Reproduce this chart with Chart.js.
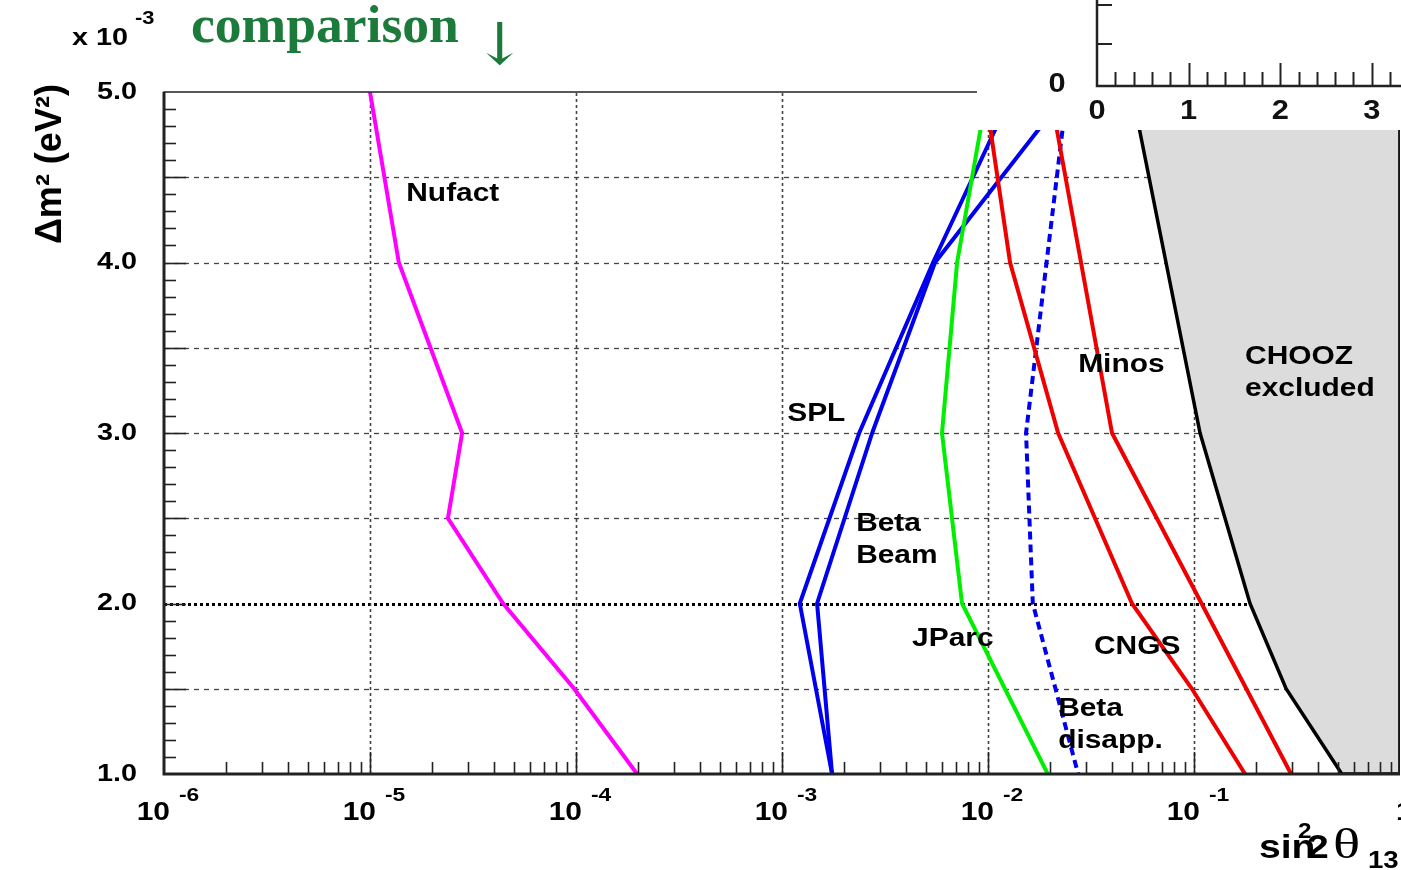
<!DOCTYPE html>
<html>
<head>
<meta charset="utf-8">
<script src="https://cdn.jsdelivr.net/npm/chart.js@4.4.1/dist/chart.umd.min.js"></script>
<style>
  html, body { margin: 0; padding: 0; background: #fff; }
  #wrap { width: 1401px; height: 870px; position: relative; }
</style>
</head>
<body>
<div id="wrap"><canvas id="canvas" width="1401" height="870"></canvas></div>
<script>
// sensitivity curves: sin^2(2 theta13) reached at each delta m^2 (x 10^-3 eV^2)
const dm2Nufact = [5.0, 4.0, 3.0, 2.5, 2.0, 1.5, 1.0];
const nufact    = [1.0e-5, 1.38e-5, 2.8e-5, 2.39e-5, 4.43e-5, 9.8e-5, 1.98e-4];

const dm2Blue  = [5.0, 4.0, 3.0, 2.0, 1.0];
const spl      = [0.0132, 5.41e-3, 2.37e-3, 1.22e-3, 1.75e-3];
const betaBeam = [0.0244, 5.53e-3, 2.74e-3, 1.48e-3, 1.75e-3];

const dm2Jparc = [5.0, 4.0, 3.0, 2.0, 1.0];
const jparc    = [9.9e-3, 7.08e-3, 5.98e-3, 7.48e-3, 1.95e-2];

const dm2BetaDis = [5.0, 3.0, 2.0, 1.0];
const betaDis    = [0.0242, 0.0153, 0.0165, 0.0274];

const dm2Cngs = [5.0, 4.0, 3.0, 2.0, 1.5, 1.0];
const cngs    = [0.00966, 0.0128, 0.0219, 0.0500, 0.0977, 0.177];

const dm2Minos = [5.0, 3.0, 1.0];
const minos    = [0.0200, 0.0400, 0.296];

// CHOOZ limit, closed along sin^2 2theta = 1 to shade the excluded side
const dm2Chooz = [5.0, 3.0, 2.0, 1.5, 1.0, 1.0, 5.0];
const chooz    = [0.050, 0.107, 0.187, 0.280, 0.522, 1.0, 1.0];

const yTicks = [1, 2, 3, 4, 5];
const yTickLabels = ['1.0', '2.0', '3.0', '4.0', '5.0'];
const xTickExps = ['-6', '-5', '-4', '-3', '-2', '-1'];

const FONT = '"Liberation Sans", Arial, sans-serif';
const SERIF = '"Liberation Serif", "DejaVu Serif", serif';

function pts(xs, ys) {
  return xs.map((v, i) => ({ x: v, y: ys[i] }));
}

function line(data, color, extra) {
  return Object.assign({
    data: data,
    showLine: true,
    borderColor: color,
    borderWidth: 4,
    pointRadius: 0,
    fill: false,
    tension: 0
  }, extra || {});
}

// text stretched sideways, the way the original plot renders it
function txt(ctx, s, x, y, align, sx) {
  ctx.save();
  ctx.translate(x, y);
  ctx.scale(sx || 1, 1);
  ctx.textAlign = align || 'left';
  ctx.fillText(s, 0, 0);
  ctx.restore();
}

const curveLabels = [
  { t: ['Nufact'], x: 1.5e-5, y: 4.40 },
  { t: ['SPL'], x: 1.06e-3, y: 3.11 },
  { t: ['Beta', 'Beam'], x: 2.29e-3, y: 2.47 },
  { t: ['JParc'], x: 4.28e-3, y: 1.79 },
  { t: ['Minos'], x: 0.0274, y: 3.40 },
  { t: ['CNGS'], x: 0.0327, y: 1.745 },
  { t: ['Beta', 'disapp.'], x: 0.0219, y: 1.381 },
  { t: ['CHOOZ', 'excluded'], x: 0.177, y: 3.446 }
];

const decor = {
  id: 'decor',
  beforeDatasetsDraw(chart) {
    const { ctx, chartArea: a, scales: { x, y } } = chart;
    ctx.save();
    // horizontal grid every 0.5
    for (let i = 3; i <= 9; i++) {
      const py = Math.round(y.getPixelForValue(i / 2)) + 0.5;
      ctx.beginPath();
      if (i === 4) {
        ctx.setLineDash([3, 3]);
        ctx.lineWidth = 3;
        ctx.strokeStyle = '#000';
      } else {
        ctx.setLineDash([5, 5]);
        ctx.lineWidth = 1.3;
        ctx.strokeStyle = '#444';
      }
      ctx.moveTo(a.left, py);
      ctx.lineTo(a.right, py);
      ctx.stroke();
    }
    // vertical grid at decades
    ctx.setLineDash([3, 3]);
    ctx.lineWidth = 1.6;
    ctx.strokeStyle = '#444';
    for (let e = -5; e <= -1; e++) {
      const px = Math.round(x.getPixelForValue(Math.pow(10, e))) + 0.5;
      ctx.beginPath();
      ctx.moveTo(px, a.bottom);
      ctx.lineTo(px, a.top);
      ctx.stroke();
    }
    ctx.restore();
  },
  afterDatasetsDraw(chart) {
    const { ctx, chartArea: a, scales: { x, y } } = chart;
    ctx.save();
    ctx.setLineDash([]);
    ctx.strokeStyle = '#222';
    // ticks, drawn inward
    ctx.lineWidth = 1.6;
    for (let i = 11; i < 50; i++) {
      const py = Math.round(y.getPixelForValue(i / 10)) + 0.5;
      const len = i % 5 === 0 ? 22 : 12;
      ctx.beginPath();
      ctx.moveTo(a.left, py);
      ctx.lineTo(a.left + len, py);
      ctx.stroke();
    }
    for (let e = -6; e < 0; e++) {
      for (let k = 1; k <= 9; k++) {
        if (e === -6 && k === 1) continue;
        const px = Math.round(x.getPixelForValue(k * Math.pow(10, e))) + 0.5;
        const len = k === 1 ? 22 : 12;
        ctx.beginPath();
        ctx.moveTo(px, a.bottom);
        ctx.lineTo(px, a.bottom - len);
        ctx.stroke();
      }
    }
    // frame
    ctx.lineWidth = 1.5;
    ctx.strokeRect(a.left, a.top, a.right - a.left - 1, a.bottom - a.top);
    ctx.lineWidth = 3;
    ctx.beginPath();
    ctx.moveTo(a.left, a.top);
    ctx.lineTo(a.left, a.bottom);
    ctx.lineTo(a.right, a.bottom);
    ctx.stroke();

    // curve names
    ctx.fillStyle = '#000';
    ctx.font = 'bold 26px ' + FONT;
    ctx.textBaseline = 'middle';
    curveLabels.forEach(l => {
      const px = x.getPixelForValue(l.x);
      const py = y.getPixelForValue(l.y);
      l.t.forEach((s, i) => txt(ctx, s, px, py + i * 32, 'left', 1.15));
    });

    // y tick labels
    ctx.font = 'bold 24px ' + FONT;
    yTicks.forEach((v, i) => {
      txt(ctx, yTickLabels[i], a.left - 27, y.getPixelForValue(v), 'right', 1.2);
    });

    // x tick labels 10^n
    ctx.textBaseline = 'alphabetic';
    xTickExps.forEach((ex, i) => {
      const px = x.getPixelForValue(Math.pow(10, i - 6));
      ctx.font = 'bold 25px ' + FONT;
      txt(ctx, '10', px + 6, 820, 'right', 1.2);
      ctx.font = 'bold 19px ' + FONT;
      txt(ctx, ex, px + 15, 801, 'left', 1.2);
    });
    ctx.font = 'bold 25px ' + FONT;
    txt(ctx, '1', x.getPixelForValue(1) - 4, 820, 'left', 1.2);

    // x title: sin^2 2theta_13
    ctx.font = 'bold 34px ' + FONT;
    txt(ctx, 'sin', 1259, 858, 'left', 1.15);
    ctx.font = 'bold 22px ' + FONT;
    txt(ctx, '2', 1298, 838, 'left', 1.1);
    ctx.font = 'bold 34px ' + FONT;
    txt(ctx, '2', 1307, 858, 'left', 1.15);
    ctx.font = '42px ' + SERIF;
    txt(ctx, '\u03B8', 1333, 858, 'left', 1.35);
    ctx.font = 'bold 23px ' + FONT;
    txt(ctx, '13', 1368, 868, 'left', 1.2);

    // y title
    ctx.save();
    ctx.translate(61, 244);
    ctx.rotate(-Math.PI / 2);
    ctx.font = 'bold 36px ' + FONT;
    ctx.textAlign = 'left';
    ctx.fillText('\u0394m\u00B2 (eV\u00B2)', 0, 0);
    ctx.restore();

    // multiplier and heading
    ctx.font = 'bold 24px ' + FONT;
    txt(ctx, 'x 10', 72, 45, 'left', 1.2);
    ctx.font = 'bold 19px ' + FONT;
    txt(ctx, '-3', 135, 24, 'left', 1.15);
    ctx.fillStyle = '#1c7a3a';
    ctx.font = 'bold 52px ' + SERIF;
    txt(ctx, 'comparison', 191, 42, 'left', 1.03);
    ctx.font = '58px "DejaVu Serif", "Liberation Serif", serif';
    txt(ctx, '\u2193', 473, 64, 'left', 1.1);

    // piece of another plot lying over the top right corner
    ctx.fillStyle = '#fff';
    ctx.fillRect(977, 0, 430, 130);
    ctx.strokeStyle = '#222';
    ctx.lineWidth = 2.5;
    ctx.beginPath();
    ctx.moveTo(1097, 0);
    ctx.lineTo(1097, 86);
    ctx.lineTo(1401, 86);
    ctx.stroke();
    ctx.lineWidth = 2;
    [5, 44].forEach(t => {
      ctx.beginPath();
      ctx.moveTo(1097, t);
      ctx.lineTo(1112, t);
      ctx.stroke();
    });
    for (let k = 1; k <= 17; k++) {
      const px = Math.round(1097 + k * 91.6 / 5) + 0.5;
      const len = k % 5 === 0 ? 23 : 14;
      ctx.beginPath();
      ctx.moveTo(px, 86);
      ctx.lineTo(px, 86 - len);
      ctx.stroke();
    }
    ctx.fillStyle = '#111';
    ctx.font = 'bold 28px ' + FONT;
    ctx.textBaseline = 'middle';
    txt(ctx, '0', 1057, 84, 'center', 1.1);
    ['0', '1', '2', '3'].forEach((s, i) => txt(ctx, s, 1097 + i * 91.6, 111, 'center', 1.1));
    ctx.restore();
  }
};

new Chart(document.getElementById('canvas'), {
  type: 'scatter',
  data: {
    datasets: [
      line(pts(chooz, dm2Chooz), '#000', { fill: 'shape', backgroundColor: '#dcdcdc', borderWidth: 3.5 }),
      line(pts(nufact, dm2Nufact), '#ff00ff'),
      line(pts(jparc, dm2Jparc), '#00ee00'),
      line(pts(cngs, dm2Cngs), '#ee0000'),
      line(pts(minos, dm2Minos), '#ee0000'),
      line(pts(betaDis, dm2BetaDis), '#0000ee', { borderDash: [8, 5] }),
      line(pts(spl, dm2Blue), '#0000ee'),
      line(pts(betaBeam, dm2Blue), '#0000ee')
    ]
  },
  options: {
    responsive: false,
    animation: false,
    devicePixelRatio: 1,
    layout: { padding: { left: 164, top: 92, right: 1, bottom: 96 } },
    plugins: { legend: { display: false }, tooltip: { enabled: false } },
    scales: {
      x: { type: 'logarithmic', min: 1e-6, max: 1, display: false },
      y: { type: 'linear', min: 1, max: 5, display: false }
    }
  },
  plugins: [decor]
});
</script>
</body>
</html>
